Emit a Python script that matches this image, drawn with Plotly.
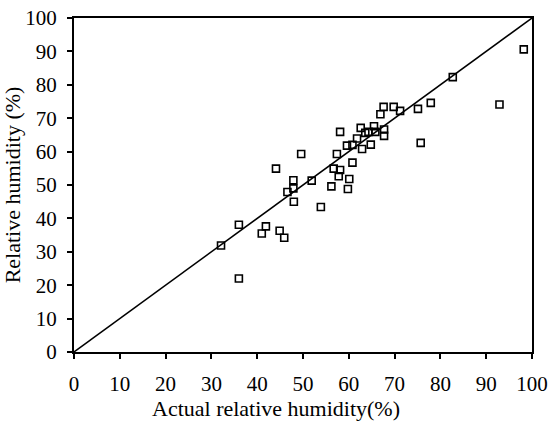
import plotly.graph_objects as go

actual = [32.1, 36.0, 36.0, 41.0, 41.9, 44.9, 45.9, 44.1, 46.6, 47.9, 47.9, 48.0,
          49.6, 51.9, 53.9, 56.2, 56.7, 57.4, 57.8, 58.1, 58.1, 59.6, 59.8, 60.1,
          60.8, 60.8, 61.8, 62.6, 62.9, 63.6, 64.3, 64.8, 65.5, 65.8, 66.9, 67.6,
          67.7, 67.7, 69.8, 71.2, 75.1, 75.7, 77.9, 82.7, 92.9, 98.2]
predicted = [31.9, 38.1, 22.0, 35.5, 37.6, 36.3, 34.2, 54.9, 47.9, 49.0, 51.4, 45.0,
             59.3, 51.3, 43.4, 49.6, 54.9, 59.3, 52.6, 54.5, 65.9, 61.8, 48.8, 51.8,
             56.7, 62.0, 63.9, 67.1, 60.8, 65.6, 65.9, 62.1, 67.6, 65.9, 71.2, 73.4,
             66.6, 64.7, 73.4, 72.2, 72.8, 62.6, 74.6, 82.3, 74.1, 90.6]
ideal_x = [0, 100]
ideal_y = [0, 100]
ticks = [0, 10, 20, 30, 40, 50, 60, 70, 80, 90, 100]
x_title = "Actual relative humidity(%)"
y_title = "Relative humidity (%)"

font_family = "Liberation Serif"

fig = go.Figure()
fig.add_trace(go.Scatter(x=ideal_x, y=ideal_y, mode="lines",
                         line=dict(color="black", width=1.5), showlegend=False,
                         hoverinfo="skip"))
fig.add_trace(go.Scatter(x=actual, y=predicted, mode="markers",
                         marker=dict(symbol="square-open", size=7,
                                     color="black", line=dict(width=1.6, color="black")),
                         showlegend=False))

axis_common = dict(range=[0, 100], tickvals=ticks, ticktext=[str(t) for t in ticks],
                   showgrid=False, zeroline=False, showline=True, mirror=True,
                   linecolor="black", linewidth=2, ticks="outside", ticklen=5,
                   tickwidth=1.5, tickcolor="black", automargin=False,
                   ticklabeloverflow="allow",
                   tickfont=dict(family=font_family, size=21, color="black"))

fig.update_layout(
    width=551, height=431,
    margin=dict(l=74, r=19, t=18, b=79),
    paper_bgcolor="white", plot_bgcolor="white",
    xaxis=dict(**axis_common, ticklabelstandoff=7),
    yaxis=dict(**axis_common,
               title=dict(text=y_title,
                          font=dict(family=font_family, size=22, color="black"),
                          standoff=10),
               ticklabelstandoff=6),
    annotations=[dict(text=x_title, xref="paper", yref="paper",
                      x=0.441, y=-0.168, xanchor="center", yanchor="middle",
                      showarrow=False,
                      font=dict(family=font_family, size=22, color="black"))],
)

fig.write_html("out.html", config={"displayModeBar": False},
               post_script="document.body.style.margin='0';")
